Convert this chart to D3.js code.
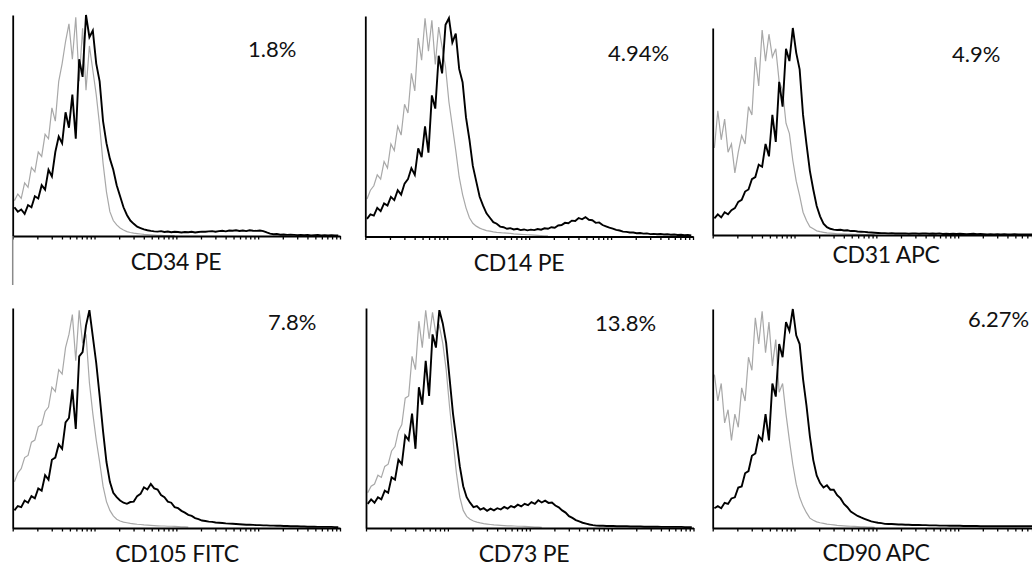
<!DOCTYPE html>
<html>
<head>
<meta charset="utf-8">
<script src="https://cdn.jsdelivr.net/npm/d3@7"></script>
<style>
  body { margin: 0; background: #fff; }
  svg { display: block; }
  text { font-family: Lato, "Open Sans", sans-serif; fill: #111; }
</style>
</head>
<body>
<div id="wrapper"></div>
<script>
// marker names and % positive, one per panel
const markers = ["CD34 PE", "CD14 PE", "CD31 APC", "CD105 FITC", "CD73 PE", "CD90 APC"];
const positives = ["1.8%", "4.94%", "4.9%", "7.8%", "13.8%", "6.27%"];

// histogram counts (% of modal), 24 channels per decade starting at 10^0
const cd34Iso = [16,19,17,24,22,31,29,38,36,46,44,58, 52,70,78,88,96,80,99,70,94,66,86,75,
  64,50,33,20,11,7,5,3.6,2.7,2,1.6,1.3, 1.1,0.9,0.7,0.6,0.5,0.4,0.3,0.3,0.2,0.2,0.2,0.2];
const cd34Stain = [13,11,12,10,14,13,18,17,23,21,30,27, 38,45,42,56,49,64,44,80,72,100,90,93,
  78,70,52,42,35,30,23,18,13,9.5,7,5.5, 4.2,3.6,3,2.6,2.3,2.1,2,2.2,1.8,2,1.7,1.9,
  1.8,1.6,1.8,1.7,1.9,1.6,1.8,2,1.9,2.1,2.2,1.9, 2.2,2.4,2.1,2.5,2.4,2.6,2.3,2.5,2.2,2.6,2.4,2.3,
  2.5,2.2,1.6,1.1,0.8,0.9,0.6,0.7,0.5,0.6,0.5,0.4, 0.5,0.4,0.5,0.3,0.4,0.5,0.3,0.4,0.3,0.4,0.3,0.3];

const cd14Iso = [17,21,23,28,26,34,31,42,39,50,46,60, 56,74,66,90,80,99,84,98,78,95,86,77,
  61,50,39,27,19,13,8.5,6,4.7,3.8,3.2,2.7, 2.4,2.1,1.9,1.8,1.6,1.5,1.4,1.2,1.1,1,0.9,0.8,
  0.7,0.6,0.5,0.4,0.3,0.3];
const cd14Stain = [8,10,9.5,13,11.5,15,14,18,16.5,21,19,24, 26,31,28,40,36,50,38,64,58,82,74,96,
  99,88,92,76,70,54,44,32,25,18,14,10.5, 8.5,6.5,5.8,4.5,4.2,3.5,3.8,3.2,3.5,2.9,3.2,2.8,
  3.1,2.9,3.4,3.1,3.7,3.5,4.2,4,5,5.2,6.2,6, 7.2,7,8.4,7.8,8.8,7.6,7.4,6.2,6.4,5.2,4.6,4,
  3.6,3,2.7,2.2,2.1,1.8,1.8,1.5,1.6,1.3,1.4,1.1, 1.2,1,1.1,0.9,1,0.8,0.9,0.7,0.8,0.6,0.7,0.5];

const cd31Iso = [42,60,46,56,40,44,30,40,48,44,62,58, 86,72,99,84,97,86,90,74,70,54,49,36,
  26,19,11,7,4,3,2,1.6,1.3,1,0.9,0.8, 0.6,0.5,0.5,0.4,0.4,0.3,0.3,0.3,0.2,0.2,0.2,0.2];
const cd31Stain = [8,10,8.5,11,10,12,13,16,17,21,22,27, 28,34,33,44,38,58,45,74,62,90,84,100,
  88,80,58,44,31,22,14,9,5.5,3.8,3,2.6, 2.4,2.5,2.2,2.3,1.9,2,1.7,1.6,1.5,1.3,1.2,1.1,
  1,0.9,0.9,0.8,0.9,0.7,0.8,0.7,0.8,0.6,0.7,0.8, 0.6,0.7,0.8,0.6,0.7,0.6,0.8,0.5,0.6,0.5,0.6,0.5,
  0.6,0.5,0.4,0.5,0.6,0.4,0.5,0.4,0.3,0.4,0.3,0.4, 0.3,0.4,0.3,0.3,0.4,0.3,0.3,0.3,0.3,0.3,0.3,0.3];

const cd105Iso = [21,25,27,32,33,39,40,46,47,53,55,64, 62,72,70,82,88,97,76,99,84,88,66,52,
  40,30,19,12,8,5.5,4,3.2,2.7,2.4,2.1,1.9, 1.7,1.6,1.4,1.3,1.2,1.1,1,0.9,0.9,0.8,0.8,0.7,
  0.6,0.5,0.5,0.4];
const cd105Stain = [8,10,9.5,12.5,11.5,14.5,13.5,18,17,24,22,31, 32,38,36,48,50,63,45,78,80,92,99,87,
  75,60,44,30,21,16,14,12.5,11.5,11,11.8,12, 14.5,15.5,18.5,17.5,20,18,17.5,15,14,12,11.5,9.5,
  9,7.8,7,6,5.5,4.5,4,3.4,3.2,2.9,2.8,2.5, 2.4,2.3,2.1,2,1.9,1.8,1.7,1.6,1.5,1.5,1.4,1.3,
  1.3,1.2,1.2,1.1,1.1,1,1,0.9,0.9,0.8,0.8,0.8, 0.7,0.7,0.6,0.6,0.6,0.5,0.5,0.5,0.5,0.5,0.4,0.4];

const cd73Iso = [16,19,20,24,23,28,29,35,37,44,47,59, 60,78,72,94,82,99,86,98,88,92,84,72,
  55,40,25,14,8,5.3,4,3.2,2.7,2.3,2,1.8, 1.6,1.4,1.3,1.2,1.1,1,1,0.9,0.8,0.8,0.7,0.6,
  0.5,0.4,0.4,0.3];
const cd73Stain = [11,13,11.5,14,13,17,16,23,22,31,29,42, 40,52,36,64,56,76,60,88,82,99,93,84,
  68,52,40,28,19,14,11.5,9.5,10,8.4,9,7.8, 8.8,8,9,8.4,9.6,8.8,10,9.4,10.6,9.8,11,10.4,
  11.8,11,12.6,11.6,12.4,11.4,11.6,10.2,9.4,8,7,5.4, 4.6,3.6,3,2.4,2,1.6,1.3,1.1,1,1,0.9,0.9,
  0.9,0.8,0.8,0.8,0.8,0.7,0.7,0.7,0.7,0.6,0.6,0.6, 0.6,0.6,0.5,0.5,0.5,0.5,0.5,0.5,0.5,0.4,0.4,0.4];

const cd90Iso = [70,58,66,48,54,40,52,46,64,58,78,72, 96,84,99,80,94,74,86,62,66,52,40,29,
  20,14,10,7,4.5,3.5,2.8,2.4,2.1,1.8,1.6,1.4, 1.2,1.1,1,0.9,0.8,0.7,0.6,0.5,0.5,0.4,0.4,0.3];
const cd90Stain = [9,10,9,11.5,11,13.5,14,18.5,19,25,26,33, 34,42,40,52,40,66,60,84,78,94,90,100,
  88,84,68,56,42,31,24,20.5,18.5,19.5,17.5,17.5, 15,13.5,11,9.5,7.5,6.5,5.5,4.8,4.2,3.6,3,2.7,
  2.4,2.2,1.9,1.8,1.8,1.7,1.6,1.6,1.5,1.5,1.4,1.4, 1.4,1.3,1.3,1.2,1.2,1.2,1.1,1.1,1.1,1,1,1,
  1,0.9,0.9,0.9,0.9,0.9,0.8,0.8,0.8,0.8,0.8,0.8, 0.8,0.8,0.8,0.8,0.8,0.8,0.8,0.8,0.8,0.8,0.8,0.8];

const isotypes = [cd34Iso, cd14Iso, cd31Iso, cd105Iso, cd73Iso, cd90Iso];
const stained = [cd34Stain, cd14Stain, cd31Stain, cd105Stain, cd73Stain, cd90Stain];
const binsPerDecade = 24;

// panel frames (pixels)
const frames = [
    {left: 12.7, right: 340, top: 15, base: 236, pctX: 248, pctY: 57, labX: 176, labY: 270, tail: 285},
    {left: 365.3, right: 693, top: 16, base: 236.5, pctX: 608, pctY: 61, labX: 519, labY: 271},
    {left: 712.7, right: 1040, top: 28, base: 235, pctX: 952, pctY: 62, labX: 886, labY: 263},
    {left: 12.7, right: 340, top: 308, base: 528, pctX: 268, pctY: 330, labX: 177, labY: 562},
    {left: 366, right: 693.5, top: 308, base: 528, pctX: 595, pctY: 331, labX: 524, labY: 562},
    {left: 712.7, right: 1040, top: 309, base: 528, pctX: 968, pctY: 327, labX: 876, labY: 561}
];

const width = 1032, height = 566;
const svg = d3.select("#wrapper").append("svg")
    .attr("width", width)
    .attr("height", height);

// minor log ticks 1..9 x 10^k
const logTicks = [];
for (let k = 0; k < 4; k++) {
    for (let m = 1; m < 10; m++) logTicks.push(m * Math.pow(10, k));
}
logTicks.push(10000);

// one point per channel, at the channel centre
const toPoints = (arr) => arr.map((v, i) => [Math.pow(10, (i + 0.5) / binsPerDecade), v]);

frames.forEach((f, p) => {
    const g = svg.append("g");

    const xScaler = d3.scaleLog()
        .domain([1, 10000])
        .range([f.left, f.right]);
    const yScaler = d3.scaleLinear()
        .domain([0, 100])
        .range([f.base, f.top]);

    const lineGenerator = d3.line()
        .x(d => xScaler(d[0]))
        .y(d => yScaler(d[1]));

    g.append("path")
        .attr("d", lineGenerator(toPoints(isotypes[p])))
        .attr("fill", "none")
        .attr("stroke", "#a8a8a8")
        .attr("stroke-width", 1.2);

    g.append("path")
        .attr("d", lineGenerator(toPoints(stained[p])))
        .attr("fill", "none")
        .attr("stroke", "#000")
        .attr("stroke-width", 1.9);

    const xAxis = d3.axisBottom(xScaler)
        .tickValues(logTicks)
        .tickSize(3.5)
        .tickSizeOuter(0)
        .tickFormat("");
    const xg = g.append("g")
        .attr("transform", `translate(0,${f.base})`)
        .call(xAxis);
    xg.select(".domain").attr("stroke", "#000").attr("stroke-width", 2);
    xg.selectAll(".tick line").attr("stroke", "#000").attr("stroke-width", 1.3);

    const yAxis = d3.axisLeft(yScaler)
        .tickValues([])
        .tickSizeOuter(0);
    const yg = g.append("g")
        .attr("transform", `translate(${f.left},0)`)
        .call(yAxis);
    yg.select(".domain").attr("stroke", "#000").attr("stroke-width", 1.8);

    if (f.tail) {
        g.append("line")
            .attr("x1", f.left).attr("x2", f.left)
            .attr("y1", f.base).attr("y2", f.tail)
            .attr("stroke", "#8a8a8a")
            .attr("stroke-width", 1.5);
    }

    g.append("text")
        .attr("x", f.pctX)
        .attr("y", f.pctY)
        .attr("font-size", 22)
        .text(positives[p]);

    g.append("text")
        .attr("x", f.labX)
        .attr("y", f.labY)
        .attr("text-anchor", "middle")
        .attr("font-size", 23)
        .attr("letter-spacing", -0.3)
        .text(markers[p]);
});
</script>
</body>
</html>
